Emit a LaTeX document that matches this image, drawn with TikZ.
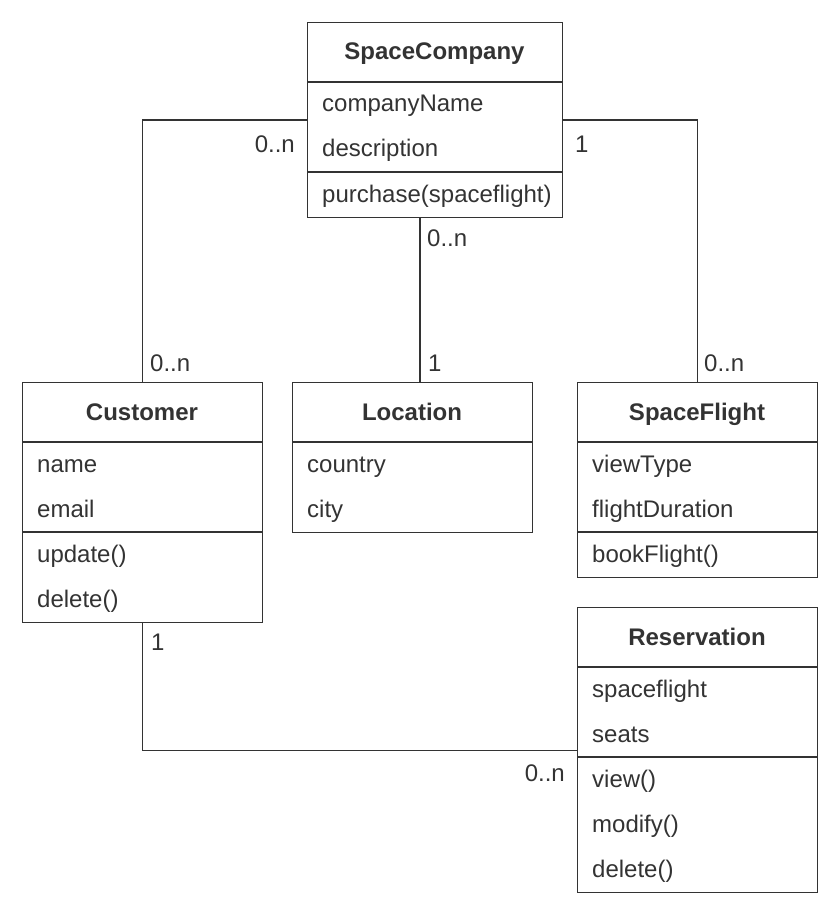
\documentclass[tikz,border=0pt]{standalone}
\usepackage{fontspec}
\setmainfont{Liberation Sans}
\definecolor{ink}{HTML}{333333}
\begin{document}
\begin{tikzpicture}[x=1pt,y=-1pt,
  box/.style={draw=ink,line width=1.3pt,inner sep=0pt,minimum width=#1},
  head/.style={font=\fontsize{24}{28}\selectfont\bfseries,text=ink,inner sep=0pt,anchor=base},
  attr/.style={font=\fontsize{24}{28}\selectfont,text=ink,anchor=base west,inner sep=0pt},
  mult/.style={font=\fontsize{24}{28}\selectfont,text=ink,inner sep=0pt},
  sep/.style={draw=ink,line width=1.3pt},
  conn/.style={draw=ink,line width=1.3pt}]
\useasboundingbox (0,0) rectangle (840,915);
% SpaceCompany
\node[box=255pt,minimum height=195pt,anchor=north west] (sc) at (307,22) {};
\node[head] (sct) at (434.5,60) {SpaceCompany};
\draw[sep] (307,82) -- (562,82);
\draw[sep] (307,172) -- (562,172);
\node[attr] (sca1) at (322,112) {companyName};
\node[attr] (sca2) at (322,157) {description};
\node[attr] (scm1) at (322,202) {purchase(spaceflight)};
% Customer
\node[box=240pt,minimum height=240pt,anchor=north west] (cu) at (22,382) {};
\node[head] (cut) at (142,420) {Customer};
\draw[sep] (22,442) -- (262,442);
\draw[sep] (22,532) -- (262,532);
\node[attr] (cua1) at (37,472) {name};
\node[attr] (cua2) at (37,517) {email};
\node[attr] (cum1) at (37,562) {update()};
\node[attr] (cum2) at (37,607) {delete()};
% Location
\node[box=240pt,minimum height=150pt,anchor=north west] (lo) at (292,382) {};
\node[head] (lot) at (412,420) {Location};
\draw[sep] (292,442) -- (532,442);
\node[attr] (loa1) at (307,472) {country};
\node[attr] (loa2) at (307,517) {city};
% SpaceFlight
\node[box=240pt,minimum height=195pt,anchor=north west] (sf) at (577,382) {};
\node[head] (sft) at (697,420) {SpaceFlight};
\draw[sep] (577,442) -- (817,442);
\draw[sep] (577,532) -- (817,532);
\node[attr] (sfa1) at (592,472) {viewType};
\node[attr] (sfa2) at (592,517) {flightDuration};
\node[attr] (sfm1) at (592,562) {bookFlight()};
% Reservation
\node[box=240pt,minimum height=285pt,anchor=north west] (re) at (577,607) {};
\node[head] (ret) at (697,645) {Reservation};
\draw[sep] (577,667) -- (817,667);
\draw[sep] (577,757) -- (817,757);
\node[attr] (rea1) at (592,697) {spaceflight};
\node[attr] (rea2) at (592,742) {seats};
\node[attr] (rem1) at (592,787) {view()};
\node[attr] (rem2) at (592,832) {modify()};
\node[attr] (rem3) at (592,877) {delete()};
% connectors
\draw[conn] (sc.west) -| (cu.north);
\draw[conn] (sc.east) -| (sf.north);
\draw[conn] (sc.south -| 420,0) -- (lo.north -| 420,0);
\draw[conn] (cu.south) |- (re.west);
% multiplicities
\node[mult,anchor=base east] (m1) at (295,152) {0..n};
\node[mult,anchor=base west] (m2) at (150,371) {0..n};
\node[mult,anchor=base west] (m3) at (427,246) {0..n};
\node[mult,anchor=base west] (m4) at (428,371) {1};
\node[mult,anchor=base west] (m5) at (575,152) {1};
\node[mult,anchor=base west] (m6) at (704,371) {0..n};
\node[mult,anchor=base west] (m7) at (151,650) {1};
\node[mult,anchor=base east] (m8) at (565,781) {0..n};
\end{tikzpicture}
\end{document}
